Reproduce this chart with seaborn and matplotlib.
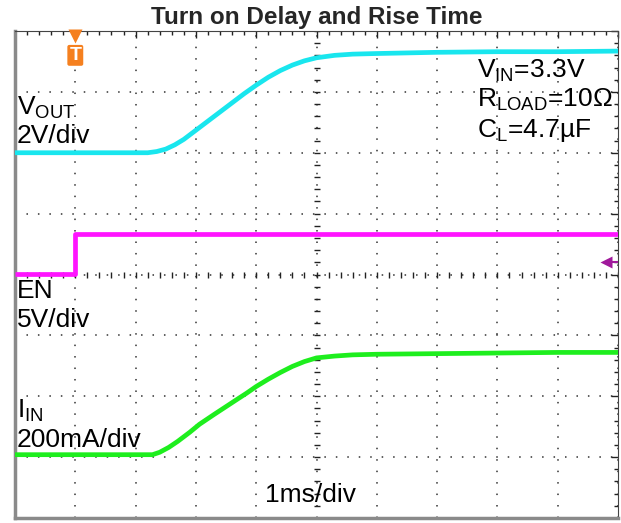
import numpy as np
import pandas as pd
import seaborn as sns
import matplotlib.pyplot as plt

# scope capture, x in ms (trigger at 0), y in divisions from bottom (0..8)
vout_t = [-1, 1.2, 1.35, 1.5, 1.65, 1.8, 2.0, 2.2, 2.4, 2.6, 2.8, 3.0, 3.2, 3.4, 3.6,
          3.8, 4.0, 4.3, 4.6, 5, 6, 7, 8, 9]
vout_v = [6.0, 6.0, 6.02, 6.06, 6.13, 6.22, 6.37, 6.52, 6.67, 6.82, 6.97, 7.11, 7.24, 7.35, 7.44,
          7.51, 7.56, 7.6, 7.62, 7.63, 7.65, 7.66, 7.66, 7.67]

en_t = [-1, 0, 0, 9]
en_v = [4.01, 4.01, 4.67, 4.67]

iin_t = [-1, 1.28, 1.4, 1.55, 1.7, 1.9, 2.06, 2.3, 2.5, 2.7, 2.84, 3.0, 3.2, 3.4, 3.6,
         3.8, 4.0, 4.3, 4.6, 5, 6, 7, 8, 9]
iin_v = [1.04, 1.04, 1.08, 1.16, 1.26, 1.41, 1.54, 1.7, 1.83, 1.96, 2.05, 2.16, 2.28, 2.39, 2.49,
         2.57, 2.63, 2.66, 2.68, 2.69, 2.7, 2.71, 2.72, 2.72]

trigger_t = 0
en_marker_level = 4.21

sns.set_style("white")
plt.rcParams['font.family'] = ['Liberation Sans', 'DejaVu Sans']
plt.rcParams['mathtext.fontset'] = 'custom'
plt.rcParams['mathtext.rm'] = 'Liberation Sans'
plt.rcParams['mathtext.it'] = 'Liberation Sans'

fig = plt.figure(figsize=(6.21, 5.23), dpi=100)
ax = fig.add_axes([15 / 621, 1 - 518 / 523, 603 / 621, 487 / 523])

xmin, xmax = -1, 9
ax.set_xlim(xmin, xmax)
ax.set_ylim(0, 8)
ax.set_xticks(np.arange(xmin, xmax + 0.01, 1))
ax.set_yticks(np.arange(0, 8.01, 1))
ax.set_xticks(np.arange(xmin, xmax + 0.01, 0.2), minor=True)
ax.set_yticks(np.arange(0, 8.01, 0.2), minor=True)
ax.grid(True, which='major', color='#333333', linestyle=(0, (1.0, 6.5)), linewidth=1.1)
ax.tick_params(which='both', direction='in', top=True, right=True,
               labelbottom=False, labelleft=False, color='#222222')
ax.tick_params(which='major', length=5, width=1)
ax.tick_params(which='minor', length=3, width=1)

for side in ['left', 'bottom']:
    ax.spines[side].set_color('#8a8a8a')
    ax.spines[side].set_linewidth(2.5)
for side in ['top', 'right']:
    ax.spines[side].set_color('#444444')
    ax.spines[side].set_linewidth(0.8)

# centre cross ticks
cx = (xmin + xmax) / 2
minor_x = np.arange(xmin, xmax + 0.01, 0.2)
minor_y = np.arange(0, 8.01, 0.2)
ax.plot(minor_x, np.full_like(minor_x, 4), '|', color='#222222', ms=5, mew=1, zorder=1)
ax.plot(np.full_like(minor_y, cx), minor_y, '_', color='#222222', ms=5, mew=1, zorder=1)

txt = dict(fontsize=19, color='black', zorder=2)
ax.text(-0.97, 6.62, r'V$_{\rm OUT}$', **txt)
ax.text(-0.97, 6.16, '2V/div', **txt)
ax.text(-0.97, 3.62, 'EN', **txt)
ax.text(-0.97, 3.13, '5V/div', **txt)
ax.text(-0.97, 1.65, r'I$_{\rm IN}$', **txt)
ax.text(-0.97, 1.17, '200mA/div', **txt)
ax.text(3.14, 0.26, '1ms/div', **txt)
ax.text(6.66, 7.23, r'V$_{\rm IN}$=3.3V', **txt)
ax.text(6.66, 6.75, r'R$_{\rm LOAD}$=10Ω', **txt)
ax.text(6.66, 6.26, r'C$_{\rm L}$=4.7µF', **txt)

traces = [
    (vout_t, vout_v, '#19E6EE'),
    (en_t, en_v, '#FF14FF'),
    (iin_t, iin_v, '#1EEE1E'),
]
for t, v, c in traces:
    df = pd.DataFrame({'t': t, 'v': v})
    sns.lineplot(data=df, x='t', y='v', ax=ax, color=c, linewidth=3.4,
                 estimator=None, sort=False, zorder=3,
                 solid_joinstyle='round', solid_capstyle='butt')

# trigger marker
ax.plot(trigger_t, 7.91, marker='v', color='#F5801F', ms=10, mec='none', zorder=4, clip_on=False)
ax.text(trigger_t, 7.6, 'T', color='white', fontsize=14, fontweight='bold',
        ha='center', va='center', zorder=5,
        bbox=dict(boxstyle='round,pad=0.1', fc='#F5801F', ec='none'))

# EN reference marker
ax.plot(8.8, en_marker_level, marker='<', color='#A0199B', ms=9, mec='none', zorder=4)
ax.plot([8.8, 9.0], [en_marker_level, en_marker_level], color='#A0199B', lw=1.5, zorder=4)

ax.set_xlabel('')
ax.set_ylabel('')
ax.set_title('Turn on Delay and Rise Time', fontsize=17.5, fontweight='bold', pad=5)

fig.savefig('out.png', dpi=100)
